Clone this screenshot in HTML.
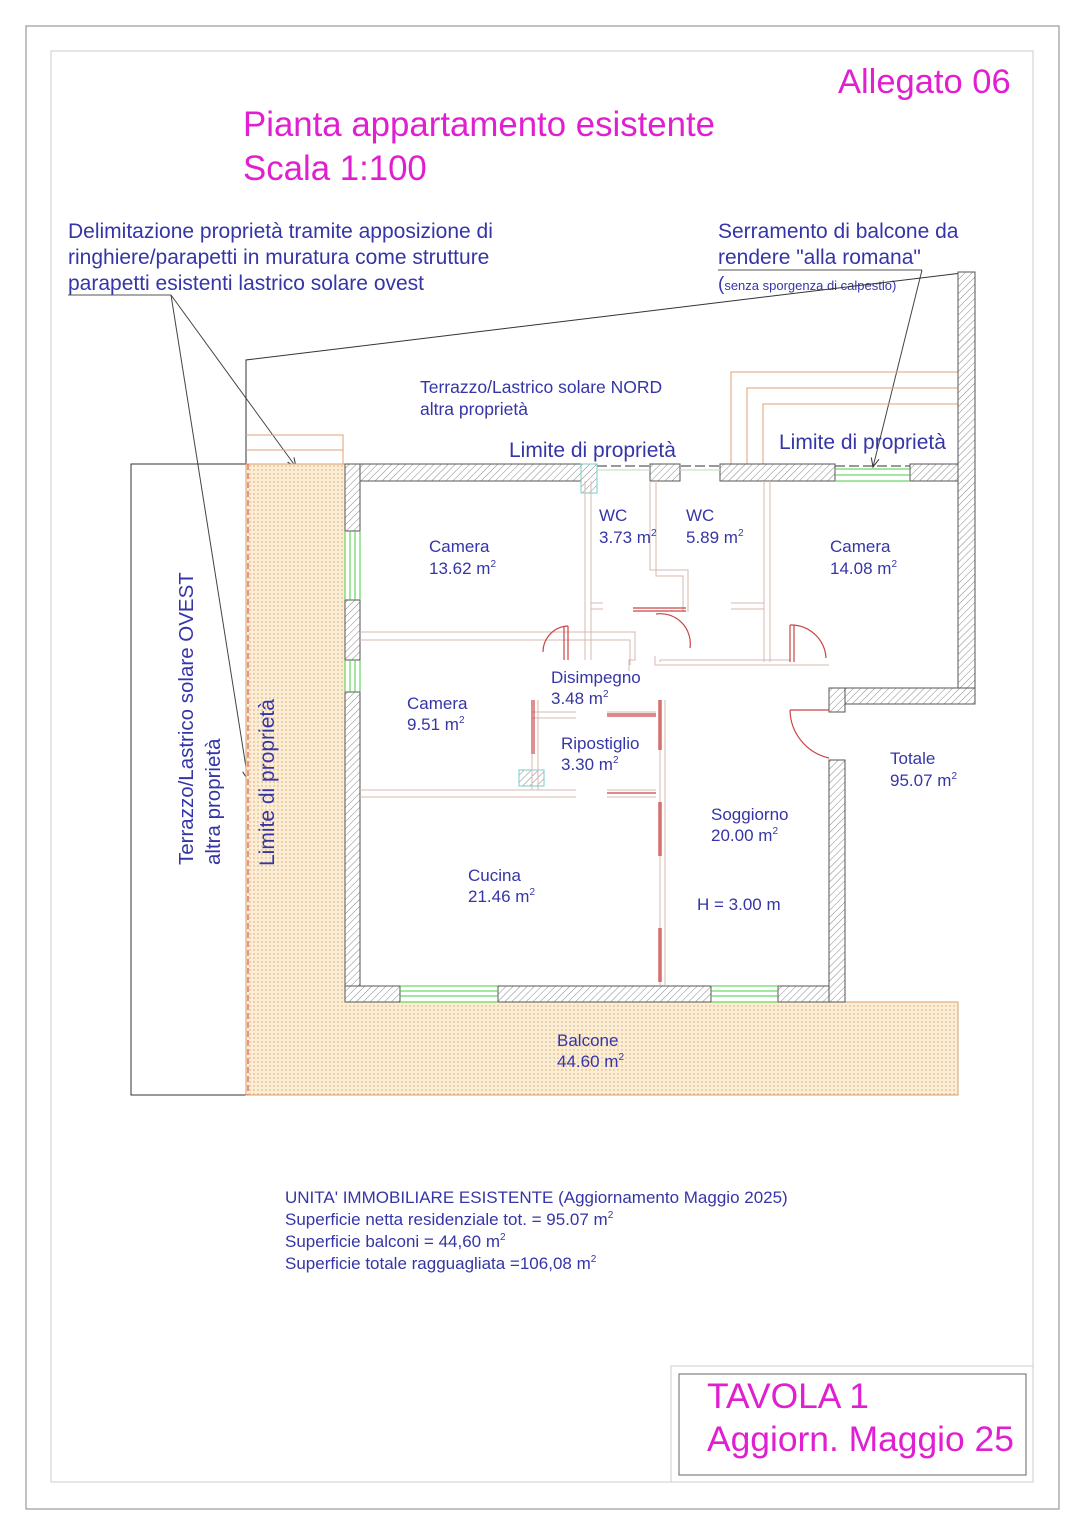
<!DOCTYPE html>
<html><head><meta charset="utf-8"><style>
html,body{margin:0;padding:0;background:#fff}
svg{display:block}
text{font-family:"Liberation Sans",sans-serif}
.b{fill:#3535a8}
.m{fill:#e020d0}
</style></head><body>
<svg width="1085" height="1535" viewBox="0 0 1085 1535" xmlns="http://www.w3.org/2000/svg">
<defs>
<pattern id="h" width="5" height="5" patternUnits="userSpaceOnUse" patternTransform="rotate(45)">
<rect width="5" height="5" fill="#fff"/><line x1="0" y1="0" x2="0" y2="5" stroke="#888" stroke-width="1"/></pattern>
<pattern id="d" width="4" height="4" patternUnits="userSpaceOnUse">
<rect width="4" height="4" fill="#fbeed6"/><circle cx="2" cy="2" r="0.7" fill="#e0a060"/></pattern>
<marker id="a" markerWidth="10" markerHeight="10" refX="9" refY="5" orient="auto"><path d="M0,1 L9,5 L0,9" fill="none" stroke="#333" stroke-width="1"/></marker>
</defs>
<rect x="26" y="26" width="1033" height="1483" fill="none" stroke="#999" stroke-width="1.2"/>
<rect x="51" y="51" width="982" height="1431" fill="none" stroke="#ccc" stroke-width="1"/>
<rect x="671" y="1366" width="362" height="116" fill="none" stroke="#ccc"/>
<rect x="679" y="1374" width="347" height="101" fill="none" stroke="#666"/>

<text x="838" y="93" class="m" style="font-size:34.5px">Allegato 06</text>
<text x="243" y="136" class="m" style="font-size:34.8px">Pianta appartamento esistente</text>
<text x="243" y="180" class="m" style="font-size:34.8px">Scala 1:100</text>
<text x="707" y="1408" class="m" style="font-size:35.4px">TAVOLA 1</text>
<text x="707" y="1451" class="m" style="font-size:35.4px">Aggiorn. Maggio 25</text>

<g class="b" style="font-size:21px">
<text x="68" y="238">Delimitazione proprietà  tramite apposizione di</text>
<text x="68" y="264">ringhiere/parapetti  in muratura come strutture</text>
<text x="68" y="290">parapetti esistenti lastrico solare ovest</text>
<text x="718" y="238">Serramento di balcone da</text>
<text x="718" y="264">rendere "alla romana"</text>
</g>
<text x="718" y="290" class="b" style="font-size:13px"><tspan style="font-size:19px">(</tspan>senza sporgenza di calpestio)</text>
<line x1="68" y1="295" x2="171" y2="295" stroke="#555"/>
<line x1="171" y1="295" x2="296" y2="467" stroke="#444" marker-end="url(#a)"/>
<line x1="171" y1="295" x2="248" y2="780" stroke="#444" marker-end="url(#a)"/>
<line x1="718" y1="270" x2="922" y2="270" stroke="#555"/>
<line x1="922" y1="270" x2="873" y2="467" stroke="#444" marker-end="url(#a)"/>

<!-- terraces -->
<rect x="131" y="464" width="115" height="631" fill="none" stroke="#333"/>
<polyline points="246,464 246,360 970,272" fill="none" stroke="#333"/>
<path d="M246,464 H345 V1002 H958 V1095 H246 Z" fill="url(#d)" stroke="#d9a070"/>
<line x1="248" y1="464" x2="248" y2="1095" stroke="#d04040" stroke-dasharray="6,3"/>
<g stroke="#e0a070" fill="none" stroke-width="1">
<path d="M246,435 H343 V464 M246,450 H343"/>
<path d="M731,464 V372 H958 M747,464 V388 H958 M763,464 V404 H958"/>
</g>
<line x1="345" y1="466" x2="975" y2="466" stroke="#333" stroke-dasharray="10,4"/>

<text x="420" y="393" class="b" style="font-size:17.5px">Terrazzo/Lastrico solare NORD</text>
<text x="420" y="415" class="b" style="font-size:17.5px">altra proprietà</text>
<text x="509" y="457" class="b" style="font-size:21px">Limite di proprietà</text>
<text x="779" y="449" class="b" style="font-size:21px">Limite di proprietà</text>
<text transform="translate(193,865) rotate(-90)" class="b" style="font-size:20.5px">Terrazzo/Lastrico solare OVEST</text>
<text transform="translate(220,865) rotate(-90)" class="b" style="font-size:20.5px">altra proprietà</text>
<text transform="translate(274,866) rotate(-90)" class="b" style="font-size:21px">Limite di proprietà</text>

<!-- walls -->
<g fill="url(#h)" stroke="#555" stroke-width="1">
<rect x="345" y="464" width="251" height="17"/>
<rect x="650" y="464" width="30" height="17"/>
<rect x="720" y="464" width="115" height="17"/>
<rect x="910" y="464" width="65" height="17"/>
<rect x="958" y="272" width="17" height="432"/>
<rect x="829" y="688" width="146" height="16"/>
<rect x="829" y="688" width="16" height="24"/>
<rect x="345" y="464" width="15" height="67"/>
<rect x="345" y="600" width="15" height="60"/>
<rect x="345" y="692" width="15" height="310"/>
<rect x="345" y="986" width="55" height="16"/>
<rect x="498" y="986" width="213" height="16"/>
<rect x="778" y="986" width="67" height="16"/>
<rect x="829" y="760" width="16" height="242"/>
</g>
<g fill="url(#h)" stroke="#7cc" stroke-width="1">
<rect x="581" y="464" width="16" height="29"/>
<rect x="519" y="770" width="25" height="16"/>
</g>
<!-- windows -->
<g stroke="#4c4" stroke-width="1" fill="none">
<path d="M345,531 V600 M350,531 V600 M355,531 V600 M360,531 V600"/>
<path d="M345,660 V692 M350,660 V692 M355,660 V692 M360,660 V692"/>
<path d="M400,986 H498 M400,991 H498 M400,996 H498 M400,1002 H498"/>
<path d="M711,986 H778 M711,991 H778 M711,996 H778 M711,1002 H778"/>
<path d="M835,469 H910 M835,475 H910 M835,481 H910"/>
<path d="M597,470 H650 M680,470 H720" stroke="#bdb"/>
</g>
<!-- interior partitions -->
<g stroke="#d8b8b0" fill="none" stroke-width="1">
<path d="M360,632 H635 V660 H629 V671 M360,640 H630 V665"/>
<path d="M585,481 V660 M591,481 V660 M591,603 H603 M591,609 H603"/>
<path d="M650,481 V570 H688 V612 M656,481 V576 H683 V612"/>
<path d="M731,603 H764 M731,609 H764 M764,481 V662 M770,481 V662"/>
<path d="M655,656 V665 H829 M660,662 V660 H790"/>
<path d="M360,790 H576 M360,797 H576 M607,790 H656 M607,797 H656"/>
<path d="M532,712 H576 M532,718 H576 M607,712 H656"/>
<path d="M532,700 V790 M538,700 V790"/>
<path d="M660,700 V985 M665,700 V985"/>
</g>
<!-- doors -->
<g stroke="#cc4444" fill="none" stroke-width="1.2">
<path d="M568,626 A26,26 0 0 0 543,652 M568,626 V660 M564,626 V660"/>
<path d="M633,608 H686 M633,611 H686"/>
<path d="M656,614 A30,30 0 0 1 690,648"/>
<path d="M790,625 V662 M794,625 V662 M790,625 A35,35 0 0 1 826,658"/>
<path d="M790,710 H829 M790,710 A50,50 0 0 0 829,758"/>
<path d="M532,700 V754 M534,700 V754"/>
<path d="M607,714 H656 M607,716 H656 M607,793 H656"/>
<path d="M659,700 V750 M661,700 V750 M659,802 V856 M661,802 V856 M659,928 V982 M661,928 V982"/>
</g>

<g class="b" style="font-size:17px">
<text x="429" y="552">Camera</text><text x="429" y="574">13.62 m<tspan style="font-size:10px" dy="-7">2</tspan></text>
<text x="599" y="521">WC</text><text x="599" y="543">3.73 m<tspan style="font-size:10px" dy="-7">2</tspan></text>
<text x="686" y="521">WC</text><text x="686" y="543">5.89 m<tspan style="font-size:10px" dy="-7">2</tspan></text>
<text x="830" y="552">Camera</text><text x="830" y="574">14.08 m<tspan style="font-size:10px" dy="-7">2</tspan></text>
<text x="551" y="683">Disimpegno</text><text x="551" y="704">3.48 m<tspan style="font-size:10px" dy="-7">2</tspan></text>
<text x="407" y="709">Camera</text><text x="407" y="730">9.51 m<tspan style="font-size:10px" dy="-7">2</tspan></text>
<text x="561" y="749">Ripostiglio</text><text x="561" y="770">3.30 m<tspan style="font-size:10px" dy="-7">2</tspan></text>
<text x="890" y="764">Totale</text><text x="890" y="786">95.07 m<tspan style="font-size:10px" dy="-7">2</tspan></text>
<text x="711" y="820">Soggiorno</text><text x="711" y="841">20.00 m<tspan style="font-size:10px" dy="-7">2</tspan></text>
<text x="468" y="881">Cucina</text><text x="468" y="902">21.46 m<tspan style="font-size:10px" dy="-7">2</tspan></text>
<text x="697" y="910">H = 3.00 m</text>
<text x="557" y="1046">Balcone</text><text x="557" y="1067">44.60 m<tspan style="font-size:10px" dy="-7">2</tspan></text>
<text x="285" y="1203">UNITA' IMMOBILIARE ESISTENTE (Aggiornamento Maggio 2025)</text>
<text x="285" y="1225">Superficie netta residenziale tot. = 95.07 m<tspan style="font-size:10px" dy="-7">2</tspan></text>
<text x="285" y="1247">Superficie balconi = 44,60 m<tspan style="font-size:10px" dy="-7">2</tspan></text>
<text x="285" y="1269">Superficie totale ragguagliata =106,08 m<tspan style="font-size:10px" dy="-7">2</tspan></text>
</g>
</svg>
</body></html>
